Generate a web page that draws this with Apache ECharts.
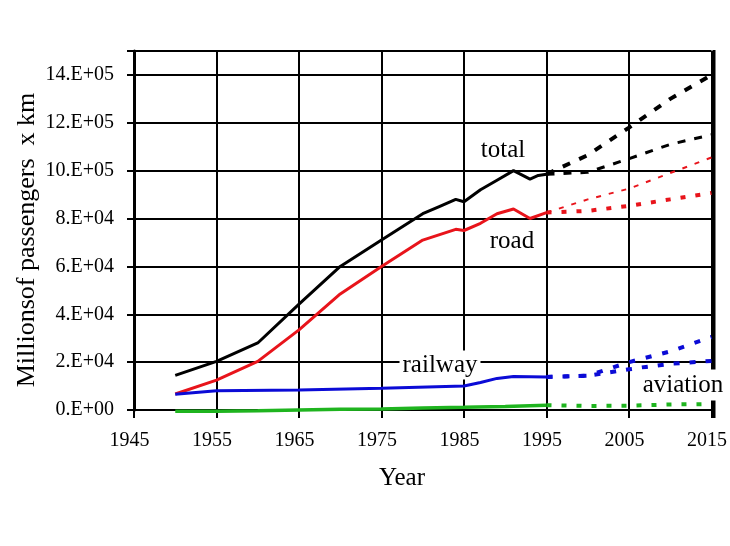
<!DOCTYPE html>
<html>
<head>
<meta charset="utf-8">
<script src="https://cdn.jsdelivr.net/npm/echarts@6/dist/echarts.min.js"></script>
<style>html,body{margin:0;padding:0;background:#fff}#c{width:730px;height:546px}</style>
</head>
<body>
<div id="c"></div>
<script>
// ---- data (historical, 1950-1995) ----
const totalYears = [1950,1955,1960,1965,1970,1975,1980,1982,1984,1985,1987,1989,1991,1993,1994,1995];
const totalVals  = [1.45,2.03,2.8,4.42,6.0,7.1,8.2,8.5,8.8,8.7,9.2,9.6,10.0,9.65,9.8,9.85];
const roadYears  = [1950,1955,1960,1965,1970,1975,1980,1984,1985,1987,1989,1991,1993,1995];
const roadVals   = [0.67,1.25,2.03,3.35,4.85,6.0,7.1,7.55,7.5,7.8,8.2,8.4,8.0,8.25];
const railYears  = [1950,1955,1965,1975,1985,1987,1989,1991,1995];
const railVals   = [0.66,0.8,0.84,0.91,1.0,1.15,1.32,1.4,1.38];
const aviaYears  = [1950,1955,1960,1965,1970,1975,1980,1985,1990,1995];
const aviaVals   = [-0.05,-0.05,-0.03,0.0,0.03,0.04,0.08,0.11,0.15,0.2];
// ---- projections (1995-2015) ----
const projYears  = [1995,2000,2005,2010,2015];
const totalHigh  = [9.85,10.65,11.8,13.0,14.0];
const totalLow   = [9.85,9.93,10.5,11.1,11.5];
const roadHigh   = [8.25,8.8,9.25,9.9,10.55];
const roadLow    = [8.25,8.32,8.53,8.8,9.07];
const railHigh   = [1.38,1.43,2.0,2.45,3.05];
const railLow    = [1.38,1.43,1.7,1.93,2.05];
const aviaProj   = [0.2,0.17,0.18,0.23,0.25];
// ---- tick labels ----
const yTickValues = [0,2,4,6,8,10,12,14];
const yTickLabels = ['0.E+00','2.E+04','4.E+04','6.E+04','8.E+04','10.E+05','12.E+05','14.E+05'];

const pairs = (xs, ys) => xs.map((x, i) => [x, ys[i]]);
const FONT = 'Liberation Serif';
const RED = '#e8141b', BLUE = '#0b0bd6', GREEN = '#1fb41f';

function line(data, color, width, type, z) {
  return {
    type: 'line', data: data, showSymbol: false, symbol: 'none', clip: false,
    lineStyle: { color: color, width: width, type: type, cap: 'butt' },
    z: z || 3, animation: false
  };
}

const chart = echarts.init(document.getElementById('c'), null, { renderer: 'canvas' });
chart.setOption({
  animation: false,
  backgroundColor: '#fff',
  grid: { left: 134, right: 16, top: 51, bottom: 136, containLabel: false },
  xAxis: {
    type: 'value', min: 1945, max: 2015, interval: 10,
    axisLine: { show: true, onZero: false, lineStyle: { color: '#000', width: 2 } },
    axisTick: { show: true, length: 8, lineStyle: { color: '#000', width: 2 } },
    axisLabel: { color: '#000', fontFamily: FONT, fontSize: 20, margin: 21, padding: [0, 9, 0, 0],
      formatter: v => String(v) },
    splitLine: { show: true, lineStyle: { color: '#000', width: 2 } }
  },
  yAxis: {
    type: 'value', min: 0, max: 15, interval: 2,
    axisLine: { show: true, lineStyle: { color: '#000', width: 3 } },
    axisTick: { show: true, length: 7, lineStyle: { color: '#000', width: 2 } },
    axisLabel: { color: '#000', fontFamily: FONT, fontSize: 20, margin: 20,
      formatter: v => { const i = yTickValues.indexOf(v); return i >= 0 ? yTickLabels[i] : ''; } },
    splitLine: { show: true, lineStyle: { color: '#000', width: 2 } }
  },
  series: [
    line(pairs(totalYears, totalVals), '#000', 3, 'solid'),
    line(pairs(roadYears, roadVals), RED, 3, 'solid'),
    line(pairs(railYears, railVals), BLUE, 3, 'solid'),
    line(pairs(aviaYears, aviaVals), GREEN, 3.5, 'solid'),
    line(pairs(projYears, totalHigh), '#000', 4, [8, 10]),
    line(pairs(projYears, totalLow), '#000', 3, [8, 9]),
    line(pairs(projYears, roadHigh), RED, 2, [5, 8]),
    line(pairs(projYears, roadLow), RED, 4, [5, 10]),
    line(pairs(projYears, railHigh), BLUE, 4, [6, 11]),
    line(pairs(projYears, railLow), BLUE, 4, [6, 10]),
    line(pairs(projYears, aviaProj), GREEN, 4, [5, 10])
  ],
  graphic: [
    { type: 'line', shape: { x1: 714, y1: 50, x2: 714, y2: 418 }, style: { stroke: '#000', lineWidth: 3 }, z: 5 },
    { type: 'text', x: 503, y: 150, style: { text: 'total', fontFamily: FONT, fontSize: 25, fill: '#000', align: 'center', verticalAlign: 'middle' }, z: 10 },
    { type: 'text', x: 512, y: 241, style: { text: 'road', fontFamily: FONT, fontSize: 25, fill: '#000', align: 'center', verticalAlign: 'middle' }, z: 10 },
    { type: 'text', x: 440, y: 365, style: { text: 'railway', fontFamily: FONT, fontSize: 25, fill: '#000', align: 'center', verticalAlign: 'middle', backgroundColor: '#fff', padding: [2, 3, 2, 3] }, z: 10 },
    { type: 'text', x: 683, y: 385, style: { text: 'aviation', fontFamily: FONT, fontSize: 25, fill: '#000', align: 'center', verticalAlign: 'middle', backgroundColor: '#fff', padding: [3, 4, 3, 4] }, z: 10 },
    { type: 'text', x: 402, y: 478, style: { text: 'Year', fontFamily: FONT, fontSize: 25, fill: '#000', align: 'center', verticalAlign: 'middle' }, z: 10 },
    { type: 'text', x: 27, y: 240, rotation: Math.PI / 2, style: { text: 'Millionsof passengers  x km', fontFamily: FONT, fontSize: 26, fill: '#000', align: 'center', verticalAlign: 'middle' }, z: 10 }
  ]
});
</script>
</body>
</html>
